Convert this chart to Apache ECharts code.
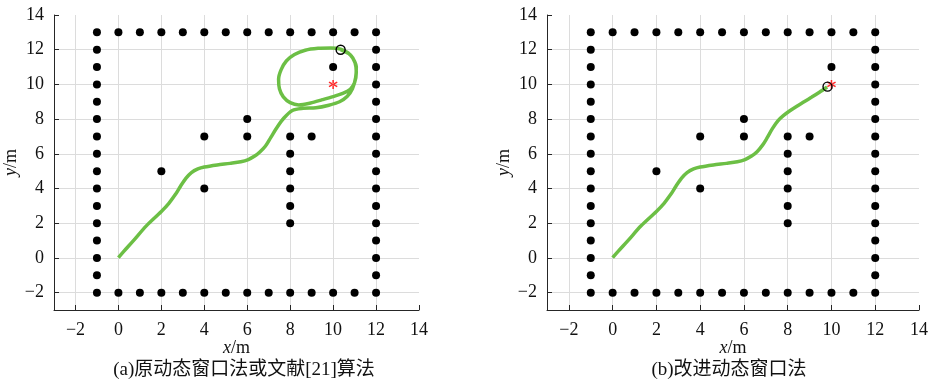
<!DOCTYPE html>
<html>
<head>
<meta charset="utf-8">
<script src="https://cdn.jsdelivr.net/npm/echarts@6/dist/echarts.min.js"></script>
<style>html,body{margin:0;padding:0;background:#fff}#c{width:931px;height:386px}</style>
</head>
<body>
<div id="c"></div>
<script>
// ---- data ----
const obstacles = [
  [-1,13],[0,13],[1,13],[2,13],[3,13],[4,13],[5,13],[6,13],[7,13],[8,13],[9,13],[10,13],[11,13],[12,13],
  [-1,-2],[0,-2],[1,-2],[2,-2],[3,-2],[4,-2],[5,-2],[6,-2],[7,-2],[8,-2],[9,-2],[10,-2],[11,-2],[12,-2],
  [-1,-1],[-1,0],[-1,1],[-1,2],[-1,3],[-1,4],[-1,5],[-1,6],[-1,7],[-1,8],[-1,9],[-1,10],[-1,11],[-1,12],
  [12,-1],[12,0],[12,1],[12,2],[12,3],[12,4],[12,5],[12,6],[12,7],[12,8],[12,9],[12,10],[12,11],[12,12],
  [2,5],[4,7],[4,4],[6,8],[6,7],[8,7],[8,6],[8,5],[8,4],[8,3],[8,2],[9,7],[10,11]
];
const goal = [10, 10];
const pathA_x = [0,0.25,0.7,1.3,2.0,2.35,2.65,2.9,3.15,3.4,3.7,4.0,4.6,5.2,5.7,6.05,6.35,6.6,6.85,
  7.1,7.4,7.7,8.1,8.6,9.2,9.8,10.3,10.65,10.9,11.05,11.08,10.95,10.7,10.35,9.9,9.3,8.7,8.2,7.82,7.58,7.46,7.5,7.68,8.0,8.4,
  8.95,9.5,10.0,10.45,10.8,11.0,11.08,11.02,10.8,10.35];
const pathA_y = [0.02,0.38,1.0,1.85,2.68,3.15,3.65,4.15,4.6,4.92,5.13,5.24,5.36,5.45,5.54,5.67,5.87,6.12,6.45,
  6.95,7.55,8.05,8.5,8.62,8.65,8.8,9.0,9.3,9.75,10.4,11.0,11.45,11.82,12.03,12.1,12.08,11.97,11.72,11.35,10.85,10.3,9.75,9.28,8.95,8.82,
  8.93,9.12,9.3,9.48,9.72,10.1,10.7,11.25,11.7,12.0];
const endA = [10.35, 12.0];
const pathB_x = [0,0.25,0.7,1.3,2.0,2.35,2.65,2.9,3.15,3.4,3.7,4.0,4.6,5.2,5.7,6.05,6.35,6.6,6.85,
  7.05,7.3,7.55,7.8,8.1,8.4,8.75,9.1,9.45,9.8];
const pathB_y = [0.02,0.38,1.0,1.85,2.68,3.15,3.65,4.15,4.6,4.92,5.13,5.24,5.36,5.45,5.54,5.67,5.87,6.12,6.5,
  6.9,7.45,7.9,8.2,8.48,8.73,9.0,9.27,9.55,9.85];
const endB = [9.82, 9.87];
const captions = ['(a)原动态窗口法或文献[21]算法', '(b)改进动态窗口法'];

// ---- chart ----
const zip = (xs, ys) => xs.map((x, i) => [x, ys[i]]);
const SERIF = 'Liberation Serif';
const AX = '#262626';
const FS = 18;
const starPath = 'path://M-0.8,-5L0.8,-5L0.8,5L-0.8,5Z M3.93,3.19L4.73,1.81L-3.93,-3.19L-4.73,-1.81Z M-4.73,1.81L-3.93,3.19L4.73,-1.81L3.93,-3.19Z';

function xAxis(gi) {
  return {
    type: 'value', gridIndex: gi, min: -3, max: 14, splitNumber: 8,
    axisLine: { show: true, onZero: false, lineStyle: { color: AX, width: 1 } },
    axisTick: { show: true, inside: true, length: 5, lineStyle: { color: AX } },
    splitLine: { show: true, showMinLine: false, showMaxLine: false, lineStyle: { color: '#dcdcdc', width: 1 } },
    axisLabel: { showMinLabel: false, margin: 11, color: '#111', fontFamily: SERIF, fontSize: FS,
      formatter: v => String(v).replace('-', '\u2212') },
    name: '{i|x}/m', nameLocation: 'middle', nameGap: 29, nameMoveOverlap: false,
    nameTextStyle: { color: '#111', fontFamily: SERIF, fontSize: FS,
      rich: { i: { fontStyle: 'italic', fontFamily: SERIF, fontSize: FS, color: '#111' } } }
  };
}
function yAxis(gi) {
  return {
    type: 'value', gridIndex: gi, min: -3, max: 14, splitNumber: 8,
    axisLine: { show: true, onZero: false, lineStyle: { color: AX, width: 1 } },
    axisTick: { show: true, inside: true, length: 5, lineStyle: { color: AX } },
    splitLine: { show: true, showMinLine: false, showMaxLine: false, lineStyle: { color: '#dcdcdc', width: 1 } },
    axisLabel: { showMinLabel: false, margin: 10, color: '#111', fontFamily: SERIF, fontSize: FS,
      formatter: v => String(v).replace('-', '\u2212') },
    name: '{i|y}/m', nameLocation: 'middle', nameGap: 34, nameRotate: 90, nameMoveOverlap: false,
    nameTextStyle: { color: '#111', fontFamily: SERIF, fontSize: FS,
      rich: { i: { fontStyle: 'italic', fontFamily: SERIF, fontSize: FS, color: '#111' } } }
  };
}
function seriesFor(gi, path, end) {
  return [
    { type: 'scatter', xAxisIndex: gi, yAxisIndex: gi, data: obstacles, symbol: 'circle', symbolSize: 8,
      itemStyle: { color: '#000', opacity: 1 }, z: 2, silent: true },
    { type: 'line', xAxisIndex: gi, yAxisIndex: gi, data: path, showSymbol: false, smooth: 0.3,
      lineStyle: { color: '#6cbf45', width: 3.5, opacity: 1 }, z: 3, silent: true },
    { type: 'scatter', xAxisIndex: gi, yAxisIndex: gi, data: [goal], symbol: starPath, symbolSize: 9,
      itemStyle: { color: '#ff2a2a', opacity: 1 }, z: 4, silent: true },
    { type: 'scatter', xAxisIndex: gi, yAxisIndex: gi, data: [end], symbol: 'circle', symbolSize: 9,
      itemStyle: { color: 'rgba(0,0,0,0)', borderColor: '#000', borderWidth: 1.4, opacity: 1 }, z: 5, silent: true }
  ];
}
const chart = echarts.init(document.getElementById('c'), null, { renderer: 'canvas' });
const capFont = '19px "Liberation Serif", "Noto Sans CJK SC"';
chart.setOption({
  animation: false,
  backgroundColor: '#fff',
  grid: [
    { left: 54, top: 15, width: 365, height: 295 },
    { left: 547, top: 15, width: 374, height: 295 }
  ],
  xAxis: [xAxis(0), xAxis(1)],
  yAxis: [yAxis(0), yAxis(1)],
  series: [
    ...seriesFor(0, zip(pathA_x, pathA_y), endA),
    ...seriesFor(1, zip(pathB_x, pathB_y), endB)
  ],
  graphic: [
    { type: 'text', x: 244, y: 370, style: { text: captions[0], fill: '#111', font: capFont, align: 'center', verticalAlign: 'middle' } },
    { type: 'text', x: 729, y: 370, style: { text: captions[1], fill: '#111', font: capFont, align: 'center', verticalAlign: 'middle' } }
  ]
});
</script>
</body>
</html>
